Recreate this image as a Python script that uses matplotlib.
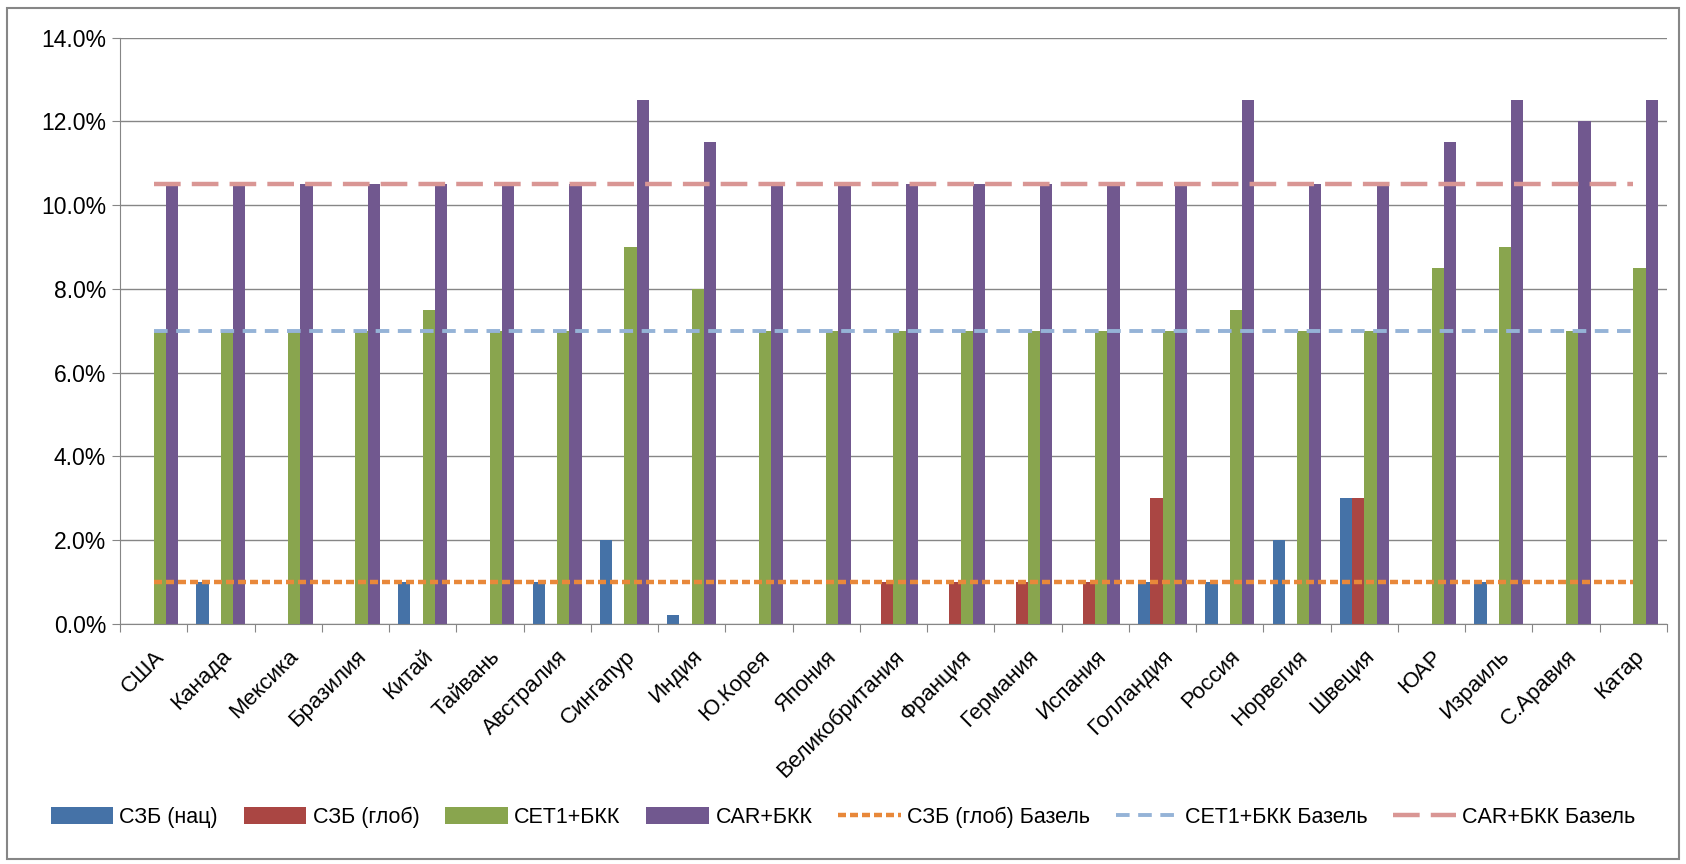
import matplotlib.pyplot as plt
import numpy as np
from matplotlib.patches import Rectangle
from matplotlib.ticker import FuncFormatter, FixedLocator

plt.rcParams['font.family'] = ['Liberation Sans', 'DejaVu Sans']

countries = ['США', 'Канада', 'Мексика', 'Бразилия', 'Китай', 'Тайвань',
             'Австралия', 'Сингапур', 'Индия', 'Ю.Корея', 'Япония',
             'Великобритания', 'Франция', 'Германия', 'Испания', 'Голландия',
             'Россия', 'Норвегия', 'Швеция', 'ЮАР', 'Израиль', 'С.Аравия', 'Катар']

# values in percent
szb_nat = [0, 1, 0, 0, 1, 0, 1, 2, 0.2, 0, 0, 0, 0, 0, 0, 1, 1, 2, 3, 0, 1, 0, 0]
szb_glob = [0, 0, 0, 0, 0, 0, 0, 0, 0, 0, 0, 1, 1, 1, 1, 3, 0, 0, 3, 0, 0, 0, 0]
cet1_bkk = [7, 7, 7, 7, 7.5, 7, 7, 9, 8, 7, 7, 7, 7, 7, 7, 7, 7.5, 7, 7, 8.5, 9, 7, 8.5]
car_bkk = [10.5, 10.5, 10.5, 10.5, 10.5, 10.5, 10.5, 12.5, 11.5, 10.5, 10.5, 10.5,
           10.5, 10.5, 10.5, 10.5, 12.5, 10.5, 10.5, 11.5, 12.5, 12.0, 12.5]

szb_glob_basel = 1.0
cet1_basel = 7.0
car_basel = 10.5

bar_names = ['СЗБ (нац)', 'СЗБ (глоб)', 'CET1+БКК', 'CAR+БКК']
bar_colors = ['#4572A7', '#AA4643', '#89A54E', '#71588F']

fig = plt.figure(figsize=(16.86, 8.64), dpi=100)
ax = fig.add_axes([0.0712, 0.278, 0.9175, 0.6785])

x = np.arange(len(countries))
w = 1 / 5.5
series = [szb_nat, szb_glob, cet1_bkk, car_bkk]
handles = []
for i, (vals, name, col) in enumerate(zip(series, bar_names, bar_colors)):
    b = ax.bar(x + (i - 1.5) * w, vals, width=w, color=col, linewidth=0,
               label=name, zorder=2)
    handles.append(b)

n = len(countries)
l1, = ax.plot([0, n - 1], [szb_glob_basel] * 2, color='#E8883A', lw=3.2,
              dashes=(1.8, 0.9), zorder=3, label='СЗБ (глоб) Базель')
l2, = ax.plot([0, n - 1], [cet1_basel] * 2, color='#95B3D7', lw=2.8,
              dashes=(3.5, 2.2), zorder=3, label='CET1+БКК Базель')
l3, = ax.plot([0, n - 1], [car_basel] * 2, color='#D99694', lw=3.2,
              dashes=(6, 2.5), zorder=3, label='CAR+БКК Базель')

ax.set_xlim(-0.5, n - 0.5)
ax.set_ylim(0, 14)
ax.set_yticks(np.arange(0, 14.1, 2))
ax.yaxis.set_major_formatter(FuncFormatter(lambda v, p: f'{v:.1f}%'))
ax.grid(axis='y', color='#868686', lw=1, zorder=0)

ax.xaxis.set_major_locator(FixedLocator(np.arange(-0.5, n, 1)))
ax.set_xticklabels([])
ax.xaxis.set_minor_locator(FixedLocator(x))
ax.set_xticklabels(countries, minor=True, rotation=45, ha='right',
                   rotation_mode='anchor', fontsize=16)
ax.tick_params(axis='x', which='minor', length=0, pad=16)
ax.tick_params(axis='x', which='major', length=6, color='#868686')
ax.tick_params(axis='y', length=6, color='#868686', labelsize=16.5, pad=4)

for s in ['top', 'right']:
    ax.spines[s].set_visible(False)
for s in ['left', 'bottom']:
    ax.spines[s].set_color('#868686')

leg_handles = handles + [l1, l2, l3]
fig.legend(leg_handles, [h.get_label() for h in leg_handles], loc='center',
           bbox_to_anchor=(0.5, 0.054), ncol=7, frameon=False, fontsize=15.5,
           handlelength=2.9, handleheight=0.85, columnspacing=1.2,
           handletextpad=0.3)

# chart area border
fig.patches.append(Rectangle((0.004, 0.006), 0.992, 0.985, transform=fig.transFigure,
                             fill=False, edgecolor='#868686', lw=1.5))

fig.savefig('out.png', dpi=100)
